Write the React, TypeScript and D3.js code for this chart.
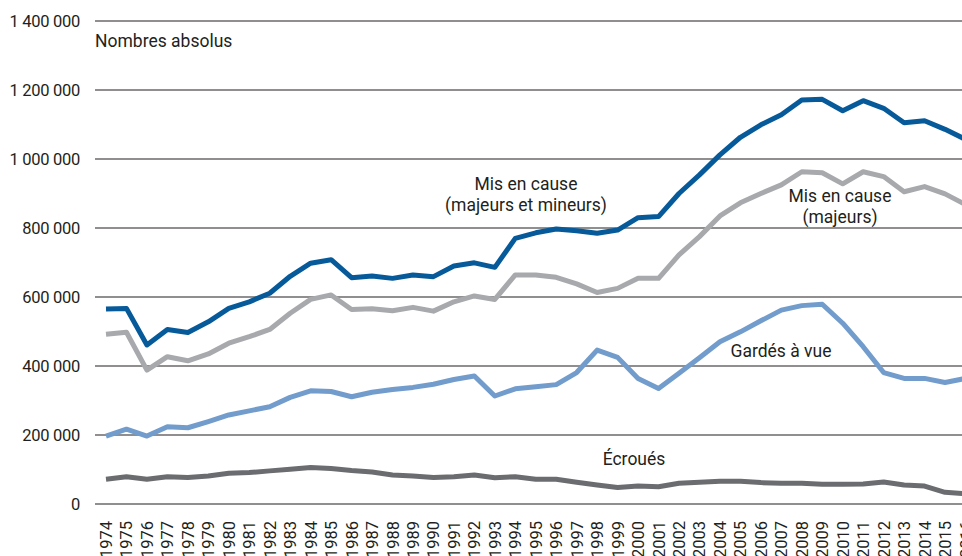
import React, { useRef, useEffect } from 'react';
import * as d3 from 'd3';

// années 1974 -> 2016
const years = d3.range(1974, 2017);

// valeurs (nombres absolus)
const misEnCauseTotal = [
  565000, 567000, 461000, 506000, 497000, 528000, 567000, 586000, 611000, 660000,
  698000, 708000, 656000, 661000, 654000, 664000, 659000, 690000, 699000, 686000,
  770000, 786000, 797000, 792000, 785000, 794000, 830000, 833000, 900000, 954000,
  1012000, 1063000, 1099000, 1128000, 1171000, 1173000, 1140000, 1169000, 1147000, 1105000,
  1111000, 1086000, 1057000,
];
const misEnCauseMajeurs = [
  492000, 498000, 388000, 427000, 415000, 435000, 466000, 485000, 506000, 553000,
  593000, 606000, 564000, 566000, 560000, 570000, 559000, 586000, 603000, 593000,
  664000, 664000, 657000, 638000, 613000, 625000, 654000, 654000, 722000, 775000,
  835000, 873000, 900000, 925000, 963000, 960000, 928000, 963000, 949000, 905000,
  920000, 899000, 868000,
];
const gardesAVue = [
  197000, 217000, 197000, 224000, 221000, 239000, 258000, 270000, 282000, 309000,
  328000, 326000, 311000, 324000, 332000, 338000, 347000, 361000, 371000, 313000,
  334000, 340000, 346000, 381000, 446000, 425000, 364000, 335000, 379000, 424000,
  470000, 499000, 531000, 562000, 575000, 579000, 524000, 456000, 381000, 364000,
  364000, 352000, 364000,
];
const ecroues = [
  72000, 79000, 72000, 79000, 77000, 81000, 89000, 91000, 96000, 101000,
  106000, 103000, 97000, 93000, 84000, 81000, 77000, 79000, 84000, 76000,
  79000, 72000, 72000, 63000, 55000, 48000, 52000, 50000, 60000, 63000,
  66000, 66000, 62000, 60000, 60000, 57000, 57000, 58000, 64000, 55000,
  52000, 34000, 30000,
];

const yTicks = [0, 200000, 400000, 600000, 800000, 1000000, 1200000, 1400000];

const series = [
  { name: 'ecroues', values: ecroues, color: '#6b6c70' },
  { name: 'gav', values: gardesAVue, color: '#729ccc' },
  { name: 'majeurs', values: misEnCauseMajeurs, color: '#a7a9ac' },
  { name: 'total', values: misEnCauseTotal, color: '#065a9a' },
];

const labels = [
  { lines: ['Mis en cause', '(majeurs et mineurs)'], x: 526, y: 190 },
  { lines: ['Mis en cause', '(majeurs)'], x: 840, y: 202 },
  { lines: ['Gardés à vue'], x: 781, y: 357 },
  { lines: ['Écroués'], x: 634, y: 465 },
];

const fmt = (v: number) => d3.format(',')(v).replace(/,/g, ' ');

export default function App() {
  const ref = useRef<SVGSVGElement>(null);

  useEffect(() => {
    const width = 962;
    const height = 556;
    const font = 'Roboto, sans-serif';

    const svg = d3.select(ref.current);
    svg.selectAll('*').remove();

    const x = d3.scaleLinear().domain([1974, 2016]).range([106, 965.5]);
    const y = d3.scaleLinear().domain([0, 1400000]).range([504, 21]);

    // grille horizontale
    svg.append('g')
      .selectAll('line')
      .data(yTicks)
      .enter()
      .append('line')
      .attr('x1', 95)
      .attr('x2', width)
      .attr('y1', d => y(d))
      .attr('y2', d => y(d))
      .attr('stroke', '#231f20')
      .attr('stroke-width', 1.2);

    // libellés axe Y
    svg.append('g')
      .selectAll('text')
      .data(yTicks)
      .enter()
      .append('text')
      .attr('x', 80)
      .attr('y', d => y(d) + 6)
      .attr('text-anchor', 'end')
      .style('font-family', font)
      .style('font-size', '16.5px')
      .style('letter-spacing', '-0.3px')
      .attr('fill', '#231f20')
      .text(d => fmt(d));

    // libellés axe X (verticaux)
    svg.append('g')
      .selectAll('text')
      .data(years)
      .enter()
      .append('text')
      .attr('transform', d => `translate(${x(d) + 6}, 521) rotate(-90)`)
      .attr('text-anchor', 'end')
      .style('font-family', font)
      .style('font-size', '16.5px')
      .attr('fill', '#231f20')
      .text(d => d);

    // courbes
    const line = d3.line<number>()
      .x((d, i) => x(years[i]))
      .y(d => y(d));

    svg.append('g')
      .selectAll('path')
      .data(series)
      .enter()
      .append('path')
      .attr('d', d => line(d.values))
      .attr('fill', 'none')
      .attr('stroke', d => d.color)
      .attr('stroke-width', 5)
      .attr('stroke-linejoin', 'round');

    // titre
    svg.append('text')
      .attr('x', 95)
      .attr('y', 47)
      .style('font-family', font)
      .style('font-size', '17.5px')
      .attr('fill', '#231f20')
      .text('Nombres absolus');

    // étiquettes des séries
    labels.forEach(l => {
      const t = svg.append('text')
        .attr('text-anchor', 'middle')
        .style('font-family', font)
        .style('font-size', '17.5px')
        .attr('fill', '#231f20');
      l.lines.forEach((s, i) => {
        t.append('tspan')
          .attr('x', l.x)
          .attr('y', l.y + i * 21)
          .text(s);
      });
    });

    svg.attr('width', width).attr('height', height);
  }, []);

  return (
    <svg
      ref={ref}
      width={962}
      height={556}
      style={{ position: 'fixed', left: 0, top: 0, background: '#fff' }}
    />
  );
}
